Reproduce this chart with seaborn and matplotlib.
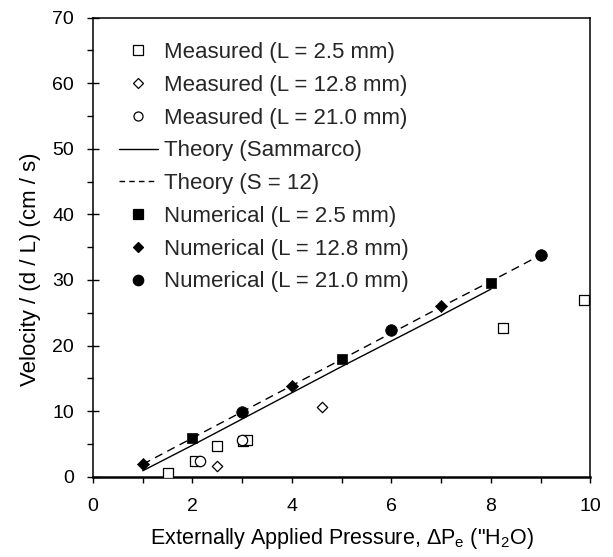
import matplotlib
matplotlib.use("Agg")
import matplotlib.pyplot as plt
import seaborn as sns
import pandas as pd
from matplotlib.lines import Line2D
from matplotlib.ticker import MultipleLocator

sns.set_style("ticks")
plt.rcParams['font.family'] = ['Liberation Sans', 'DejaVu Sans']
plt.rcParams['mathtext.fontset'] = 'custom'
plt.rcParams['mathtext.rm'] = 'Liberation Sans'
plt.rcParams['mathtext.it'] = 'Liberation Sans:italic'

# Measured data
meas_25_x = [1.5, 2.05, 2.5, 3.02, 3.1, 8.25, 9.88]
meas_25_y = [0.6, 2.45, 4.7, 5.5, 5.6, 22.6, 27.0]
meas_128_x = [2.5, 4.6]
meas_128_y = [1.7, 10.7]
meas_210_x = [2.15, 3.0]
meas_210_y = [2.45, 5.55]

# Theory lines
th_samm_x = [1, 2, 3, 4, 5, 6, 7, 8]
th_samm_y = [0.9, 4.8, 8.8, 12.8, 16.8, 20.7, 24.6, 28.6]
th_s12_x = [1, 2, 3, 4, 5, 6, 7, 8, 9]
th_s12_y = [1.9, 5.9, 9.9, 13.9, 17.9, 21.9, 25.9, 29.8, 33.8]

# Numerical
num_25_x = [2, 5, 8]
num_25_y = [5.9, 18.0, 29.6]
num_128_x = [1, 4, 7]
num_128_y = [1.9, 13.9, 26.1]
num_210_x = [3, 6, 9]
num_210_y = [9.8, 22.4, 33.8]

fig = plt.figure(figsize=(6.13, 5.57), dpi=100)
ax = fig.add_axes([0.1517, 0.1442, 0.8113, 0.8240])

sns.lineplot(x=th_samm_x, y=th_samm_y, ax=ax, color='black', lw=1.0, zorder=2)
sns.lineplot(x=th_s12_x, y=th_s12_y, ax=ax, color='black', lw=1.0,
             linestyle=(0, (6, 4)), zorder=2)

kw_open = dict(facecolor='white', edgecolor='black', linewidth=0.9, zorder=3)
kw_fill = dict(color='black', edgecolor='black', linewidth=0.5, zorder=4)
sns.scatterplot(x=meas_25_x, y=meas_25_y, ax=ax, marker='s', s=50, **kw_open)
sns.scatterplot(x=meas_128_x, y=meas_128_y, ax=ax, marker='D', s=28, **kw_open)
sns.scatterplot(x=meas_210_x, y=meas_210_y, ax=ax, marker='o', s=55, **kw_open)
sns.scatterplot(x=num_25_x, y=num_25_y, ax=ax, marker='s', s=62, **kw_fill)
sns.scatterplot(x=num_128_x, y=num_128_y, ax=ax, marker='D', s=38, **kw_fill)
sns.scatterplot(x=num_210_x, y=num_210_y, ax=ax, marker='o', s=70, **kw_fill)

ax.set_xlim(0, 10)
ax.set_ylim(0, 70)
ax.xaxis.set_major_locator(MultipleLocator(2))
ax.xaxis.set_minor_locator(MultipleLocator(1))
ax.yaxis.set_major_locator(MultipleLocator(10))
ax.yaxis.set_minor_locator(MultipleLocator(5))
ax.tick_params(axis='x', which='both', direction='out', length=4.5, width=1,
               labelsize=14, pad=11, color='black', labelcolor='black')
ax.tick_params(axis='y', which='major', direction='inout', length=9, width=1,
               labelsize=14, pad=9, color='black', labelcolor='black')
ax.tick_params(axis='y', which='minor', direction='out', length=4, width=1, color='black')

for side in ['left', 'right', 'top']:
    ax.spines[side].set_visible(True)
    ax.spines[side].set_color('black')
    ax.spines[side].set_linewidth(1.1)
ax.spines['bottom'].set_color('black')
ax.spines['bottom'].set_linewidth(1.8)

ax.set_xlabel(r'Externally Applied Pressure, $\Delta$P$_\mathrm{e}$ ("H$_2$O)',
              fontsize=15.5, color='black', labelpad=8)
ax.set_ylabel('Velocity / (d / L) (cm / s)', fontsize=16, color='black')
ax.yaxis.set_label_coords(-0.105, 0.453)

def mk(marker, fc, ms):
    return Line2D([], [], linestyle='none', marker=marker, markerfacecolor=fc,
                  markeredgecolor='black', markeredgewidth=0.9, markersize=ms)

handles = [
    mk('s', 'white', 6.5),
    mk('D', 'white', 5),
    mk('o', 'white', 6.5),
    Line2D([], [], color='black', lw=1.0),
    Line2D([], [], color='black', lw=1.0, linestyle=(0, (4, 3))),
    mk('s', 'black', 7),
    mk('D', 'black', 5.5),
    mk('o', 'black', 7.5),
]
labels = ['Measured (L = 2.5 mm)', 'Measured (L = 12.8 mm)', 'Measured (L = 21.0 mm)',
          'Theory (Sammarco)', 'Theory (S = 12)',
          'Numerical (L = 2.5 mm)', 'Numerical (L = 12.8 mm)', 'Numerical (L = 21.0 mm)']
ax.legend(handles, labels, loc='upper left', bbox_to_anchor=(0.052, 0.947),
          frameon=False, fontsize=16, borderpad=0, borderaxespad=0,
          handlelength=1.76, handletextpad=0.25, labelspacing=0.53)

fig.savefig('out.png', dpi=100)
